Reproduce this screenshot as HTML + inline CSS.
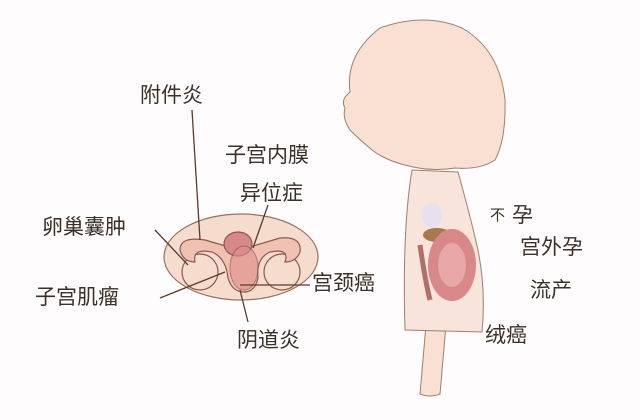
<!DOCTYPE html>
<html><head><meta charset="utf-8"><style>
html,body{margin:0;padding:0;background:#fff;}
svg{display:block}
text{font-family:"Liberation Sans","Noto Sans CJK SC",sans-serif;fill:#3a3028;font-size:21px;}
</style></head><body>
<svg width="640" height="420" viewBox="0 0 640 420">
<rect width="640" height="420" fill="#fefcfc"/>
<g stroke="#9a8070" stroke-width="1" fill="#fae0d2">
<path d="M426 325 L420 394 Q430 398 440 394 L446 325 Z"/>
<path d="M412 170 Q402 230 405 330 L482 332 Q486 290 478 250 Q470 215 458 172 Z" fill="#f8e4da"/>
<path d="M380 28 Q425 12 462 28 Q500 50 505 100 Q506 140 495 160 Q480 170 455 168 Q430 172 405 165 Q385 160 372 150 Q360 140 350 130 Q342 118 345 108 Q340 100 350 92 Q345 55 380 28 Z"/>
</g>
<ellipse cx="432" cy="215" rx="10" ry="13" fill="#e8e0ee"/>
<ellipse cx="437" cy="235" rx="14" ry="7" fill="#a87850"/>
<ellipse cx="452" cy="265" rx="24" ry="36" fill="#d88888"/>
<ellipse cx="452" cy="265" rx="14" ry="22" fill="#e8a8a8"/>
<path d="M420 245 Q425 280 430 300" stroke="#b07068" stroke-width="5" fill="none"/>
<ellipse cx="241" cy="257" rx="77" ry="43" fill="#f6dccc" stroke="#9a7060" stroke-width="1.2"/>
<g stroke="#8a5a50" stroke-width="1.2" fill="#f0c0b0">
<circle cx="200" cy="272" r="18" fill="#f6dccc"/>
<circle cx="282" cy="272" r="18" fill="#f6dccc"/>
<path d="M180 250 Q180 236 205 240 Q225 246 240 250 Q260 244 280 238 Q302 236 300 252 Q296 262 285 262 Q290 248 270 252 Q256 258 258 278 Q255 292 244 292 Q232 292 228 278 Q226 258 212 252 Q192 248 195 262 Q183 262 180 250 Z"/>
<ellipse cx="238" cy="244" rx="14" ry="12" fill="#d88888"/>
<ellipse cx="244" cy="268" rx="14" ry="22" fill="#e09090" opacity="0.6"/>
</g>
<g stroke="#5a3a30" stroke-width="1.3" fill="none">
<line x1="192" y1="110" x2="200" y2="240"/>
<line x1="268" y1="205" x2="253" y2="248"/>
<line x1="155" y1="230" x2="188" y2="265"/>
<line x1="160" y1="298" x2="225" y2="272"/>
<line x1="240" y1="285" x2="310" y2="285"/>
<line x1="240" y1="290" x2="248" y2="322"/>
</g>
<text x="140" y="102">附件炎</text>
<text x="225" y="162">子宫内膜</text>
<text x="240" y="200">异位症</text>
<text x="42" y="234">卵巢囊肿</text>
<text x="35" y="304">子宫肌瘤</text>
<text x="312" y="290">宫颈癌</text>
<text x="237" y="347">阴道炎</text>
<text x="490" y="220" style="font-size:15px">不</text>
<text x="512" y="222">孕</text>
<text x="520" y="254">宫外孕</text>
<text x="530" y="297">流产</text>
<text x="485" y="342">绒癌</text>
</svg>
</body></html>
